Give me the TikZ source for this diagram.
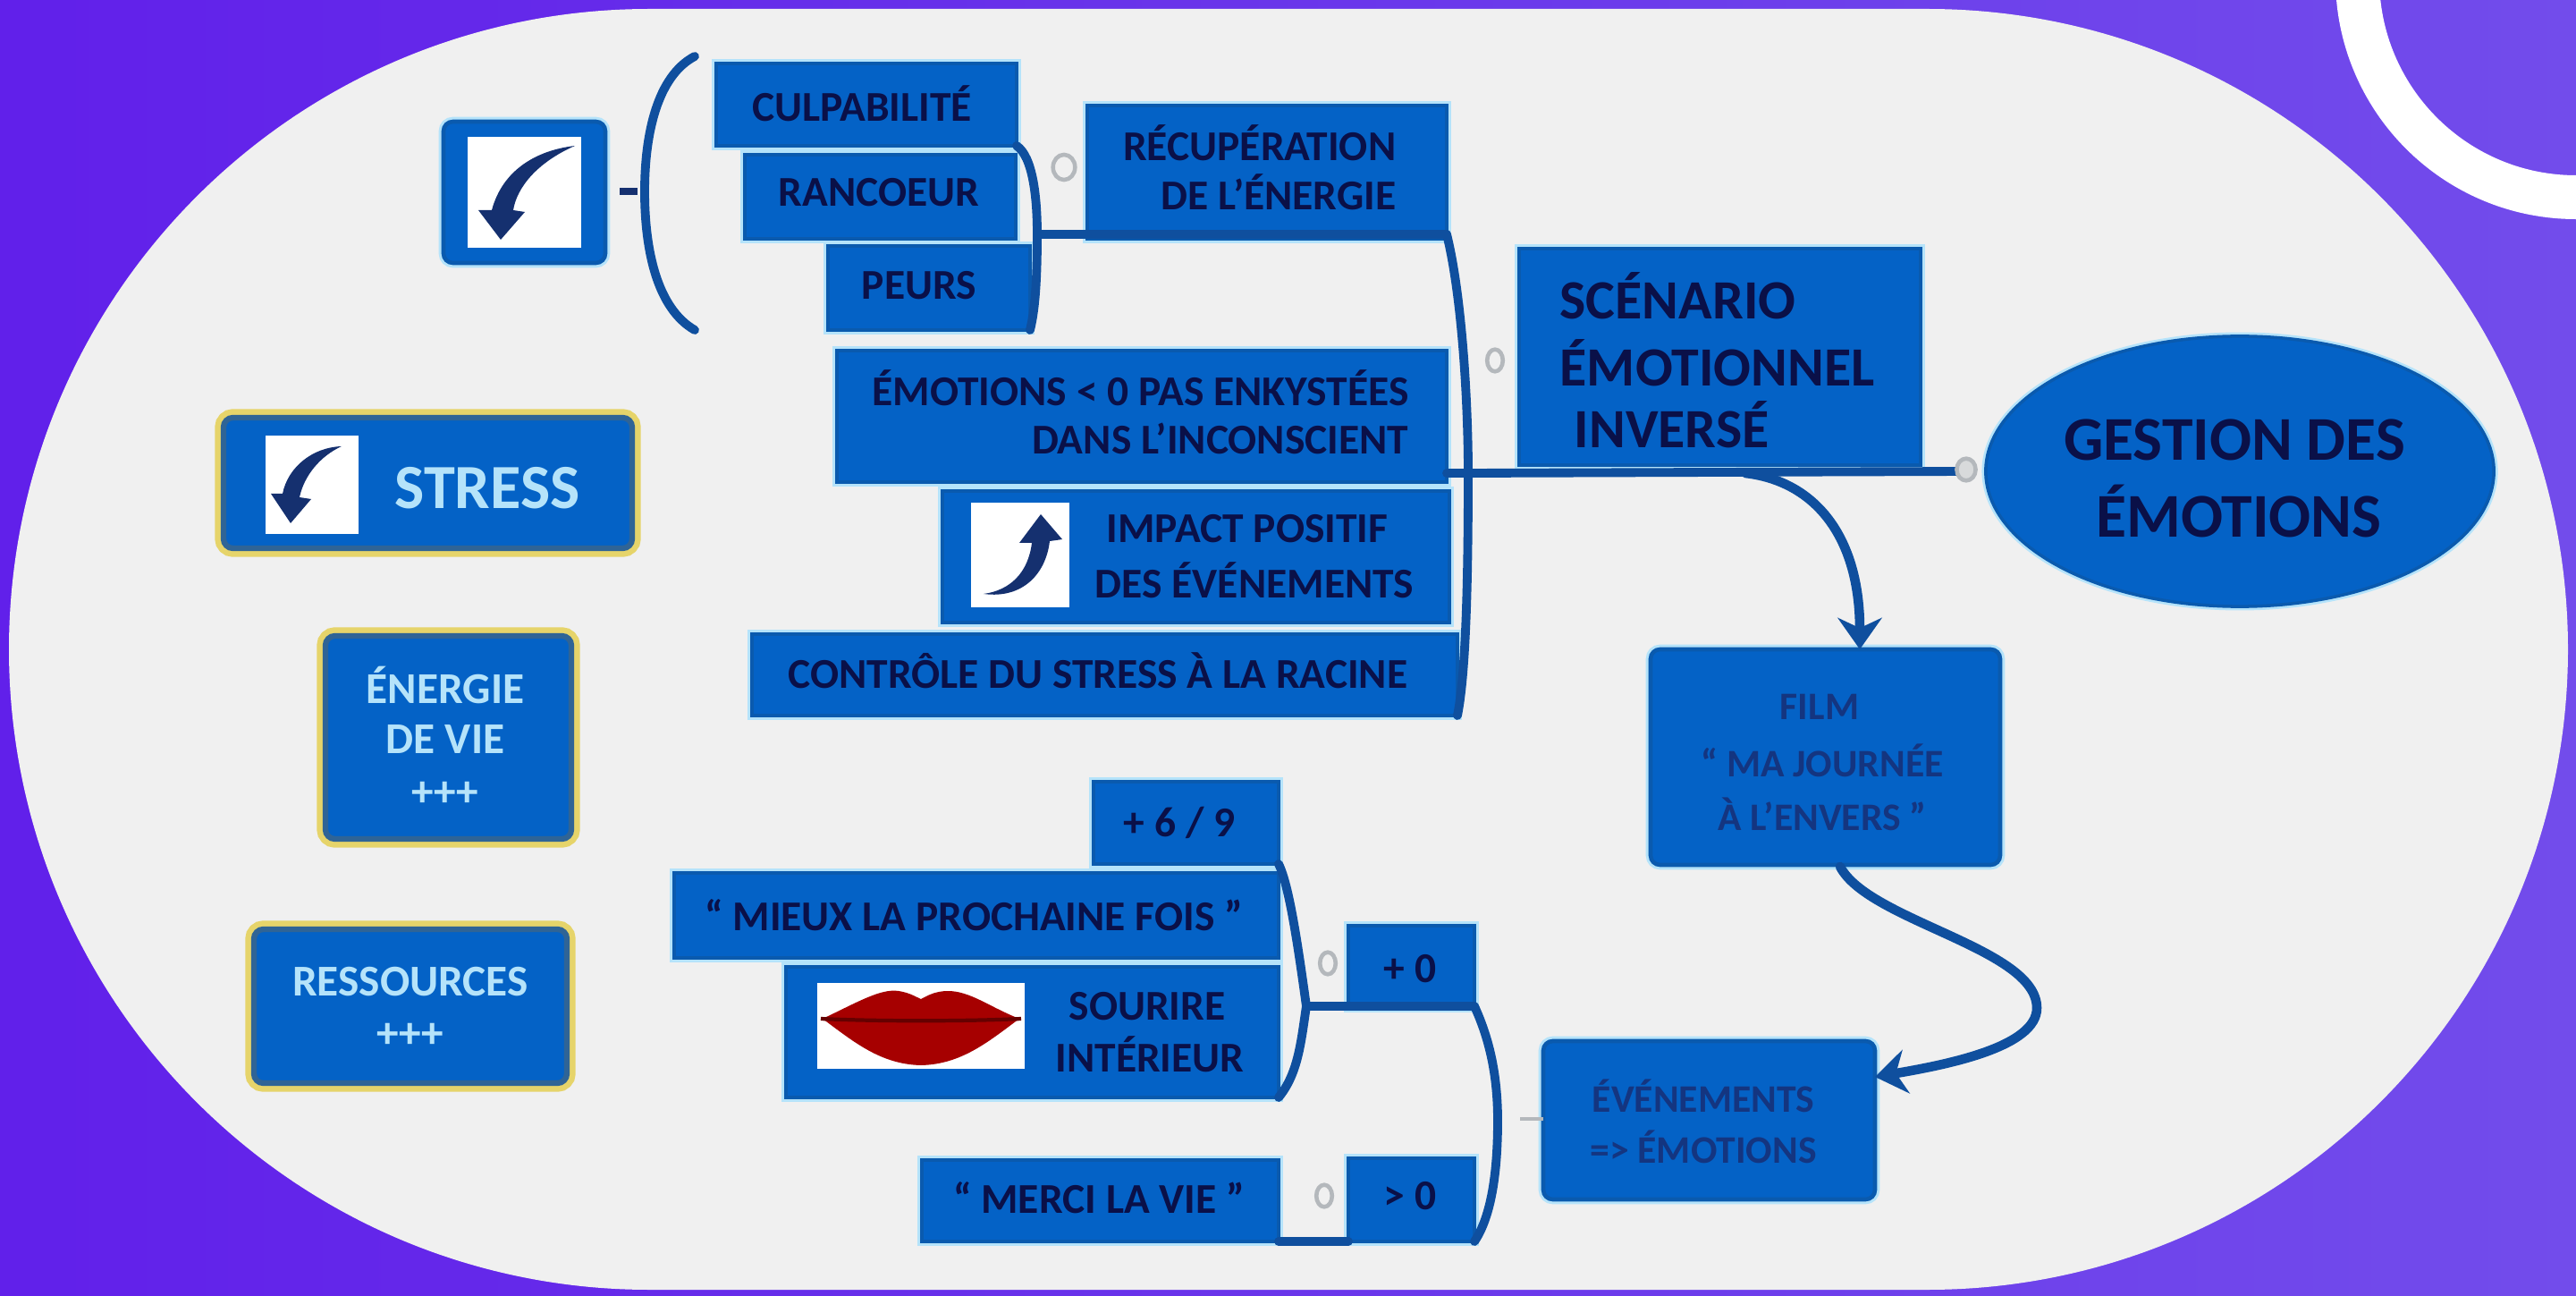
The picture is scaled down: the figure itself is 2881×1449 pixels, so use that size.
\documentclass[tikz,border=0pt]{standalone}
\usepackage{fontspec}
\setmainfont{Carlito}[BoldFont=Carlito Bold]
\usetikzlibrary{arrows.meta,shapes.geometric}
\definecolor{pale}{HTML}{F0F0F0}
\definecolor{bgl}{HTML}{6120EA}
\definecolor{bgr}{HTML}{724CEB}
\definecolor{fillb}{HTML}{0462C6}
\definecolor{edgeb}{HTML}{0A5AAE}
\definecolor{halo}{HTML}{B5E3FA}
\definecolor{navy}{HTML}{0A1048}
\definecolor{softnavy}{HTML}{143580}
\definecolor{iconb}{HTML}{15306F}
\definecolor{linkb}{HTML}{0F4F9E}
\definecolor{gold}{HTML}{E6D46A}
\definecolor{frameb}{HTML}{2F6496}
\definecolor{knob}{HTML}{B4B8BC}
\tikzset{
  boxn/.style={draw=edgeb,line width=1.3pt,fill=fillb,inner sep=0pt,outer sep=0pt,rectangle,
    preaction={draw=halo,line width=3pt}},
  softbox/.style={boxn,rounded corners=3pt},
  legend/.style={fill=fillb,draw=frameb,line width=1.8pt,rounded corners=3pt,inner sep=0pt,outer sep=0pt,rectangle,
    preaction={draw=gold,line width=5.5pt,rounded corners=5pt}},
  picn/.style={fill=white,draw=none,inner sep=0pt,outer sep=0pt,rectangle},
  lbl/.style={text=navy,font=\bfseries\fontsize{13.5}{15}\selectfont,inner sep=0pt,anchor=center},
  lblbig/.style={lbl,font=\bfseries\fontsize{17.6}{20}\selectfont},
  lblhuge/.style={lbl,font=\bfseries\fontsize{19.8}{22}\selectfont},
  lblsoft/.style={text=softnavy,font=\bfseries\fontsize{12.4}{14}\selectfont,inner sep=0pt,anchor=center},
  lblwhite/.style={text=halo,font=\bfseries\fontsize{14}{16}\selectfont,inner sep=0pt,anchor=center},
  link/.style={draw=linkb,line width=2.8pt,line cap=round},
  knobn/.style={draw=knob,line width=1.3pt,fill=pale,ellipse,minimum width=5pt,minimum height=7pt,inner sep=0pt},
  iconarrow/.style={fill=iconb,draw=none},
}
% box by its corners: style, name, x1,y1,x2,y2
\newcommand{\bx}[6]{\node[#1,minimum width={(#5-#3)*0.01cm},minimum height={(#6-#4)*0.01cm}] (#2) at ({(#3+#5)/2},{(#4+#6)/2}) {};}
\begin{document}
\begin{tikzpicture}[x=0.01cm,y=-0.01cm]
\useasboundingbox (0,0) rectangle (2881,1449);
\clip (0,0) rectangle (2881,1449);
\shade[left color=bgl,right color=bgr] (0,0) rectangle (2881,1449);
\fill[pale,rounded corners=7.16cm] (10,10) rectangle (2872,1442);
\draw[white,line width=13.94pt] (2881,-24) circle[radius=244.5];

% large bracket beside the icon
\coordinate (pgtop) at (777,63);
\coordinate (pgbot) at (777,369);
\coordinate (pgmid) at (721,214);
\coordinate (pgdash) at (693,214);
\draw[link,line width=2.8pt] (pgtop) .. controls (735,85) and (721,150) .. (pgmid) .. controls (721,280) and (735,345) .. (pgbot);
\draw[draw=iconb,line width=2pt] (pgdash) -- (713,214);

\bx{boxn}{culp}{801}{71}{1137}{163}
\bx{boxn}{ranc}{833}{173}{1136}{267}
\bx{boxn}{peur}{926}{275}{1152}{369}
\bx{boxn}{recu}{1216}{118}{1618}{267}
\bx{boxn}{emot}{936}{392}{1618}{539}
\bx{boxn}{impa}{1054}{549}{1621}{696}
\bx{boxn}{ctrl}{841}{709}{1630}{800}
\bx{boxn}{scen}{1699}{278}{2148}{520}
\node[ellipse,draw=edgeb,line width=1pt,fill=fillb,inner sep=0pt,outer sep=0pt,minimum width=5.68cm,minimum height=3.02cm,preaction={draw=halo,line width=2.5pt}] (gest) at (2505,527) {};
\bx{softbox}{film}{1846}{726}{2237}{967}
\bx{softbox}{even}{1726}{1164}{2097}{1341}
\bx{boxn}{six}{1223}{874}{1430}{966}
\bx{boxn}{mieu}{754}{976}{1430}{1071}
\bx{boxn}{sour}{879}{1081}{1430}{1227}
\bx{boxn}{zerm}{1508}{1035}{1649}{1127}
\bx{boxn}{merc}{1031}{1297}{1430}{1388}
\bx{boxn}{zerp}{1508}{1295}{1649}{1388}
\bx{softbox}{iconbox}{496}{136}{677}{294}
\bx{legend}{strs}{250}{467}{707}{613}
\bx{legend}{ener}{364}{711}{639}{938}
\bx{legend}{ress}{284}{1039}{634}{1211}

% brackets
\coordinate (j1) at (1160,262);
\draw[link] (culp.south east) .. controls (1155,175) and (1160,220) .. (j1) .. controls (1160,310) and (1158,345) .. (peur.south east);
\draw[link] (j1) -- (recu.east |- j1) coordinate (r1);
\coordinate (j2) at (1642,529);
\draw[link] (r1) .. controls (1635,330) and (1642,450) .. (j2) .. controls (1642,640) and (1640,750) .. (ctrl.south east);
\coordinate (k0) at (2199,527);
\draw[link] (emot.east |- j2) -- (j2) -- (k0);
\coordinate (j3) at (1461,1125);
\draw[link] (six.south east) .. controls (1442,990) and (1452,1060) .. (j3) -- (zerm.east |- j3) coordinate (r3);
\draw[link] (j3) .. controls (1455,1165) and (1452,1200) .. (sour.south east);
\coordinate (j4) at (1675,1253);
\draw[link] (r3) .. controls (1665,1160) and (1675,1200) .. (j4) .. controls (1675,1310) and (1668,1360) .. (zerp.south east);
\draw[link] (merc.south east) -- (zerp.south west);
\coordinate (k5) at (1700,1251);
\draw[draw=knob,line width=1pt] (k5) -- (even.west |- k5);

% arrows between nodes
\coordinate (a1) at (1952,529);
\draw[link,line width=3pt,-{Stealth[length=10pt,width=14pt]}] (a1) .. controls (2030,538) and (2080,600) .. (film.north -| 2080,0);
\coordinate (a2) at (2058,969);
\coordinate (a3) at (2278,1127);
\draw[link,line width=3pt,-{Stealth[length=10pt,width=14pt]}] (a2) .. controls (2090,1030) and (2278,1060) .. (a3) .. controls (2278,1170) and (2180,1190) .. (even.east |- 0,1204);

% collapse knobs
\node[knobn,minimum width=7pt,minimum height=8pt] (k1) at (1190,187) {};
\node[knobn] (k2) at (1672,403) {};
\node[knobn,fill=knob!40!pale,minimum width=6pt,minimum height=7pt] (k3) at (2199,525) {};
\node[knobn] (k4) at (1485,1077) {};
\node[knobn] (k6) at (1481,1337) {};

% pictures
\bx{picn}{pica}{523}{153}{650}{277}
\fill[iconarrow] (643,163) .. controls (600,168) and (562,190) .. (550,235) -- (535,235) -- (560,268) -- (587,237) -- (574,235) .. controls (578,210) and (600,182) .. (643,163) -- cycle;
\bx{picn}{picb}{297}{487}{401}{597}
\fill[iconarrow] (382,499) .. controls (350,500) and (322,522) .. (316,552) -- (303,552) -- (325,585) -- (348,558) -- (335,556) .. controls (340,532) and (358,510) .. (382,499) -- cycle;
\bx{picn}{picc}{1086}{562}{1196}{679}
\fill[iconarrow] (1100,664) .. controls (1130,660) and (1150,640) .. (1154,607) -- (1140,607) -- (1164,575) -- (1188,603) -- (1174,605) .. controls (1170,640) and (1145,670) .. (1100,664) -- cycle;
\bx{picn}{picd}{914}{1099}{1146}{1195}
\fill[red!65!black] (920,1139) .. controls (960,1120) and (985,1105) .. (1005,1108) .. controls (1018,1110) and (1025,1115) .. (1030,1117) .. controls (1036,1114) and (1045,1108) .. (1060,1108) .. controls (1085,1108) and (1105,1125) .. (1140,1139) .. controls (1105,1165) and (1075,1190) .. (1030,1191) .. controls (985,1190) and (955,1165) .. (920,1139) -- cycle;
\draw[red!40!black,line width=1.2pt] (918,1139) .. controls (980,1142) and (1080,1142) .. (1142,1139);

% labels
\node[lbl] (t1) at (964,116) {CULPABILITÉ};
\node[lbl] (t2) at (983,215) {RANCOEUR};
\node[lbl] (t3) at (1028,319) {PEURS};
\node[lbl,anchor=east] (t4) at (1562,160) {RÉCUPÉRATION};
\node[lbl,anchor=east] (t5) at (1562,215) {DE L'ÉNERGIE};
\node[lbl,anchor=east] (t6) at (1576,434) {ÉMOTIONS < 0 PAS ENKYSTÉES};
\node[lbl,anchor=east] (t7) at (1576,490) {DANS L'INCONSCIENT};
\node[lbl] (t8) at (1395,591) {IMPACT POSITIF};
\node[lbl] (t9) at (1403,649) {DES ÉVÉNEMENTS};
\node[lbl] (t10) at (1228,750) {CONTRÔLE DU STRESS À LA RACINE};
\node[lbl] (t11) at (1319,920) {+ 6 / 9};
\node[lbl] (t12) at (1089,1023) {“ MIEUX LA PROCHAINE FOIS ”};
\node[lbl] (t13) at (1283,1125) {SOURIRE};
\node[lbl] (t14) at (1286,1179) {INTÉRIEUR};
\node[lbl] (t15) at (1577,1083) {+ 0};
\node[lbl] (t16) at (1229,1339) {“ MERCI LA VIE ”};
\node[lbl] (t17) at (1577,1337) {> 0};
\node[lblbig,anchor=west] (t18) at (1744,331) {SCÉNARIO};
\node[lblbig,anchor=west] (t19) at (1744,406) {ÉMOTIONNEL};
\node[lblbig,anchor=west] (t20) at (1760,475) {INVERSÉ};
\node[lblhuge] (t21) at (2499,492) {GESTION DES};
\node[lblhuge] (t22) at (2504,571) {ÉMOTIONS};
\node[lblsoft] (t23) at (2035,790) {FILM};
\node[lblsoft] (t24) at (2038,850) {“ MA JOURNÉE};
\node[lblsoft] (t25) at (2038,910) {À L'ENVERS ”};
\node[lblsoft] (t26) at (1905,1225) {ÉVÉNEMENTS};
\node[lblsoft] (t27) at (1905,1282) {=> ÉMOTIONS};
\node[lblwhite,font=\bfseries\fontsize{20}{22}\selectfont] (t28) at (545,546) {STRESS};
\node[lblwhite] (t29) at (498,766) {ÉNERGIE};
\node[lblwhite] (t30) at (498,827) {DE VIE};
\node[lblwhite] (t31) at (498,888) {+++};
\node[lblwhite] (t32) at (459,1098) {RESSOURCES};
\node[lblwhite] (t33) at (459,1158) {+++};
\end{tikzpicture}
\end{document}
